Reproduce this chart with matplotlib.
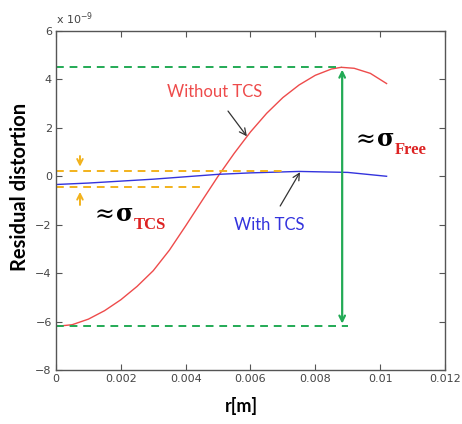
import matplotlib.pyplot as plt

# data (values in units of 1e-9)
r_free = [0, 0.0005, 0.001, 0.0015, 0.002, 0.0025, 0.003, 0.0035, 0.004, 0.0045,
          0.005, 0.0055, 0.006, 0.0065, 0.007, 0.0075, 0.008, 0.0085, 0.0088,
          0.0092, 0.0097, 0.0102]
d_free = [-6.2, -6.13, -5.9, -5.55, -5.1, -4.55, -3.9, -3.05, -2.05, -1.02,
          0.0, 0.95, 1.83, 2.6, 3.25, 3.77, 4.17, 4.43, 4.5,
          4.46, 4.25, 3.83]

r_tcs = [0, 0.001, 0.002, 0.003, 0.004, 0.005, 0.006, 0.0075, 0.009, 0.0102]
d_tcs = [-0.34, -0.28, -0.2, -0.12, -0.02, 0.08, 0.14, 0.2, 0.16, 0.0]

free_max, free_min, r_peak = 4.52, -6.2, 0.00883
tcs_hi, tcs_lo = 0.2, -0.45

xticks = [0, 0.002, 0.004, 0.006, 0.008, 0.01, 0.012]
xlabels = ['0', '0.002', '0.004', '0.006', '0.008', '0.01', '0.012']
yticks = [-8, -6, -4, -2, 0, 2, 4, 6]

red = '#ee4b4b'
blue = '#3333dd'
green = '#22aa55'
orange = '#f2b21c'
label_font = ['Lato', 'DejaVu Sans']

fig = plt.figure(figsize=(4.62, 4.24), dpi=100)
ax = fig.add_axes([0.1212, 0.1274, 0.8418, 0.7995])
ax.set_xlim(0, 0.012)
ax.set_ylim(-8, 6)

ax.plot(r_free, d_free, color=red, lw=1.0)
ax.plot(r_tcs, d_tcs, color=blue, lw=1.0)

# green levels and double arrow
ax.plot([0, r_peak], [free_max, free_max], color=green, lw=1.4, ls=(0, (4, 3)))
ax.plot([0, 0.009], [free_min, free_min], color=green, lw=1.4, ls=(0, (4, 3)))
ax.annotate('', xy=(r_peak, free_max), xytext=(r_peak, free_min),
            arrowprops=dict(arrowstyle='<->', color=green, lw=1.6))

# orange levels and arrows
ax.plot([0, 0.007], [tcs_hi, tcs_hi], color=orange, lw=1.4, ls=(0, (4, 3)))
ax.plot([0, 0.0045], [tcs_lo, tcs_lo], color=orange, lw=1.4, ls=(0, (4, 3)))
ax.annotate('', xy=(0.00074, tcs_hi + 0.08), xytext=(0.00074, 0.95),
            arrowprops=dict(arrowstyle='->', color=orange, lw=1.4))
ax.annotate('', xy=(0.00074, tcs_lo - 0.08), xytext=(0.00074, -1.3),
            arrowprops=dict(arrowstyle='->', color=orange, lw=1.4))

# labels on curves
ax.annotate('Without TCS', xy=(0.00589, 1.65), xytext=(0.00488, 3.46),
            color=red, fontsize=12, family=label_font, ha='center', va='center',
            arrowprops=dict(arrowstyle='->', color='#333333', lw=0.9,
                            shrinkA=7, shrinkB=0))
ax.annotate('With TCS', xy=(0.00753, 0.17), xytext=(0.00657, -2.02),
            color=blue, fontsize=12, family=label_font, ha='center', va='center',
            arrowprops=dict(arrowstyle='->', color='#333333', lw=0.9,
                            shrinkA=7, shrinkB=0))

# sigma labels: black "≈ σ" with a red bold subscript after it
for x0, y0, sub in [(0.0091, 1.53, 'Free'), (0.00105, -1.57, 'TCS')]:
    sig = ax.text(x0, y0, r'$\approx\!\mathbf{\sigma}$', fontsize=17, ha='left',
                  va='center', color='black', math_fontfamily='dejavuserif')
    ax.annotate(sub, xy=(1, 0), xycoords=sig, xytext=(0.5, -2),
                textcoords='offset points', fontsize=12, fontweight='bold',
                color='#dd2222', family='Liberation Serif', ha='left', va='baseline')

# axes styling
ax.set_xticks(xticks)
ax.set_xticklabels(xlabels)
ax.set_yticks(yticks)
ax.tick_params(direction='in', top=True, right=True, length=4, width=0.8,
               colors='#555555', labelsize=8, labelcolor='#444444', pad=3)
for s in ax.spines.values():
    s.set_color('#555555')
    s.set_linewidth(1.0)

ax.text(0.0, 1.012, r'x 10$^{-9}$', transform=ax.transAxes, fontsize=8,
        color='#444444', ha='left', va='bottom')

ax.set_ylabel('Residual distortion', fontsize=14.5, fontweight='bold', family=label_font)
ax.yaxis.set_label_coords(-0.068, 0.54)
ax.set_xlabel('r[m]', fontsize=13, fontweight='bold', family=label_font)
ax.xaxis.set_label_coords(0.476, -0.08)

fig.savefig('out.png', dpi=100)
